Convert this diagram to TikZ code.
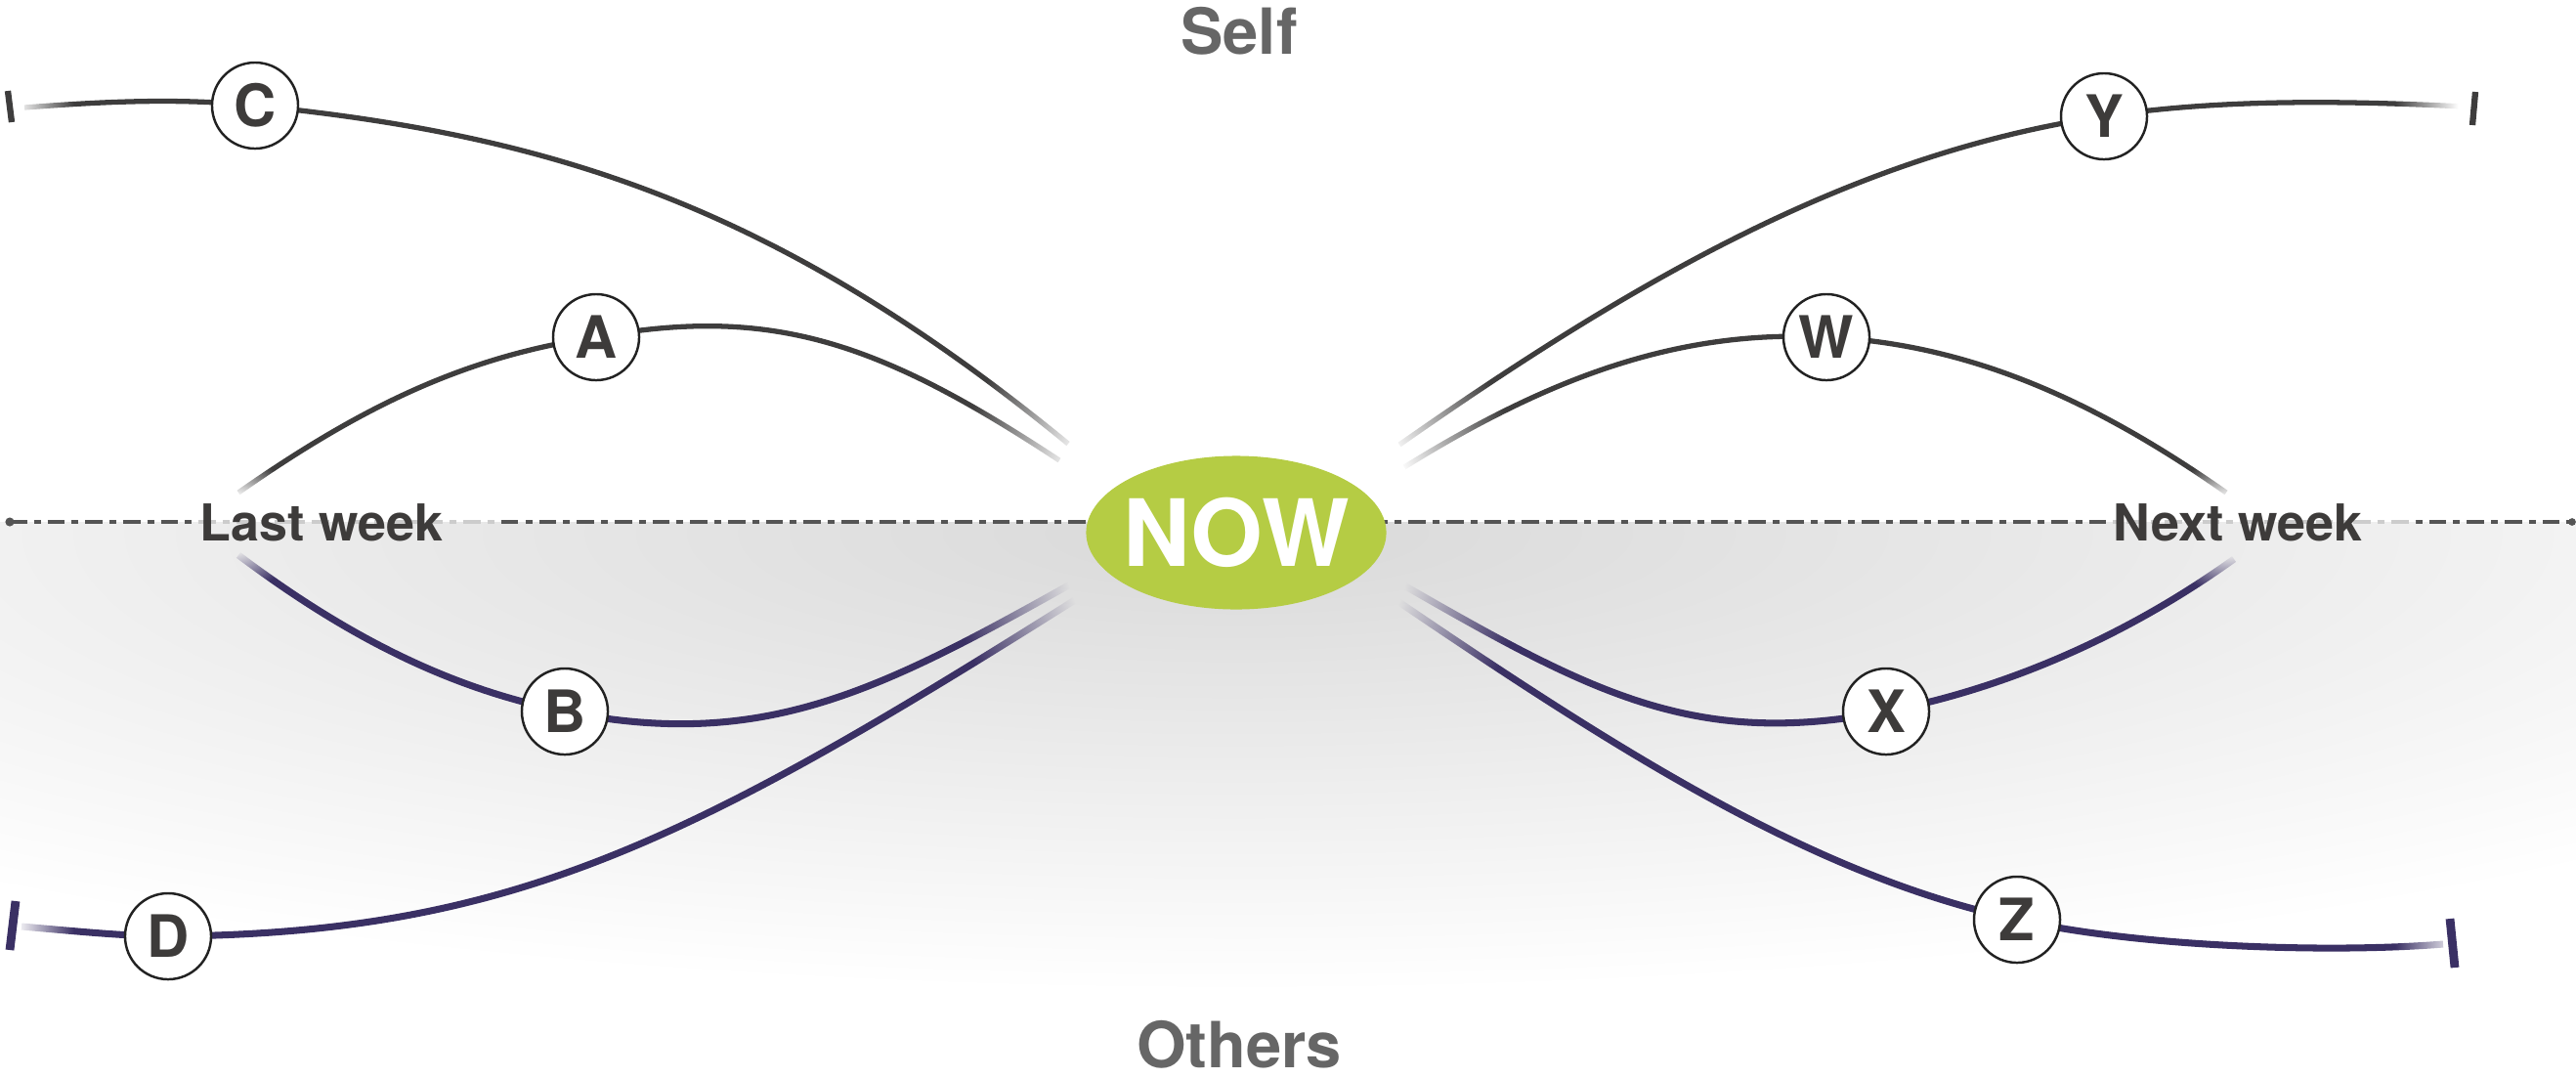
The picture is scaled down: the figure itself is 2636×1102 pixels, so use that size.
\documentclass[tikz,border=0pt]{standalone}
\usepackage{fontspec}
\setmainfont{TeX Gyre Heros}
\usepackage{tikz}
\usetikzlibrary{shapes.geometric,backgrounds,fadings}
\definecolor{nowgreen}{RGB}{181,204,68}
\definecolor{selfline}{RGB}{62,61,61}
\definecolor{otherline}{RGB}{58,48,100}
\definecolor{inkgray}{RGB}{61,59,58}
\definecolor{capgray}{RGB}{102,102,102}
\definecolor{dashgray}{RGB}{85,85,85}
\definecolor{ringgray}{RGB}{34,34,34}

% holes for the fading of the curve ends
\pgfdeclareradialshading{nowhole}{\pgfpoint{0bp}{0bp}}{color(0bp)=(black); color(9bp)=(black); color(15bp)=(white); color(25bp)=(white); color(50bp)=(white)}
\pgfdeclareradialshading{weekhole}{\pgfpoint{0bp}{0bp}}{color(0bp)=(black); color(5bp)=(black); color(12.5bp)=(white); color(25bp)=(white); color(50bp)=(white)}

\begin{tikzfadingfrompicture}[name=curvefade, x=0.01cm, y=-0.01cm]
  \fill[white] (0,0) rectangle (2636,1102);
  \shade[shading=nowhole] (1265,545) circle (5cm);
  \shade[shading=weekhole] (236,536) circle (1.4cm);
  \shade[shading=weekhole] (2282,538) circle (1.4cm);
  \fill[black] (0,0) rectangle (15,1102);
  \shade[left color=black, right color=white] (15,0) rectangle (75,1102);
  \shade[left color=white, right color=black] (2450,0) rectangle (2515,1102);
  \fill[black] (2515,0) rectangle (2636,1102);
\end{tikzfadingfrompicture}

\tikzset{
  evtnode/.style={circle, draw=ringgray, line width=0.7pt, fill=white,
    minimum size=0.88cm, inner sep=0pt, text=inkgray,
    font=\fontsize{17}{17}\selectfont\bfseries},
  nowoval/.style={ellipse, fill=nowgreen, minimum width=3.07cm,
    minimum height=1.57cm, inner xsep=-0.12cm, inner ysep=0pt, text=white,
    font=\fontsize{27}{27}\selectfont\bfseries},
  sidelab/.style={text=capgray, inner sep=0pt,
    font=\fontsize{18.5}{19}\selectfont\bfseries},
  weeklab/.style={text=inkgray, inner sep=0pt,
    font=\fontsize{14.8}{15}\selectfont\bfseries},
  timeline/.style={draw=dashgray, line width=0.9pt,
    dash pattern=on 5pt off 2pt on 2pt off 2pt},
  fadeends/.style={path fading=curvefade, fit fading=false,
    fading transform={xshift=13.18cm, yshift=-5.51cm}},
  selfcurve/.style={draw=selfline, line width=1.5pt, fadeends},
  othercurve/.style={draw=otherline, line width=2pt, fadeends},
  selftick/.style={draw=selfline, line width=1.8pt},
  othertick/.style={draw=otherline, line width=2.5pt},
}

\begin{document}
\begin{tikzpicture}[x=0.01cm, y=-0.01cm]
  \useasboundingbox (0,0) rectangle (2636,1102);

  % centre
  \node[nowoval] (now) at (1265,545) {NOW};

  % last week side
  \node[evtnode] (C) at (261,108) {C};
  \node[evtnode] (A) at (610,345) {A};
  \node[evtnode] (B) at (578,728) {B};
  \node[evtnode] (D) at (172,958) {D};

  % next week side
  \node[evtnode] (Y) at (2153,119) {Y};
  \node[evtnode] (W) at (1869,345) {W};
  \node[evtnode] (X) at (1930,728) {X};
  \node[evtnode] (Z) at (2064,941) {Z};

  % labels
  \node[sidelab] (self) at (1268,32) {Self};
  \node[sidelab] (others) at (1268,1069) {Others};
  \node[weeklab] (last) at (329,535) {Last week};
  \node[weeklab] (next) at (2290,535) {Next week};

  % loose ends
  \coordinate (c0) at (25,110);   \coordinate (c1) at (1093,454);
  \coordinate (a0) at (244,504);  \coordinate (a1) at (1084,471);
  \coordinate (b0) at (244,568);  \coordinate (b1) at (1095,598);
  \coordinate (d0) at (22,948);   \coordinate (d1) at (1103,612);
  \coordinate (y0) at (1432,455); \coordinate (y1) at (2521,109);
  \coordinate (w0) at (1437,478); \coordinate (w1) at (2278,504);
  \coordinate (x0) at (1435,598); \coordinate (x1) at (2286,572);
  \coordinate (z0) at (1430,615); \coordinate (z1) at (2500,966);

  \begin{scope}[on background layer]
    % shadow below the time line
    \begin{scope}
      \clip (0,534) rectangle (2636,1102);
      \shade[inner color=black!15, outer color=white]
        (1265,545) ellipse [x radius=20cm, y radius=4.7cm];
    \end{scope}

    % time line, paler round the week labels
    \draw[timeline] (10,534) -- (2632,534);
    \begin{scope}
      \clip (200,515) rectangle (510,555);
      \draw[timeline, draw=gray!40] (10,534) -- (2632,534);
    \end{scope}
    \begin{scope}
      \clip (2160,515) rectangle (2472,555);
      \draw[timeline, draw=gray!40] (10,534) -- (2632,534);
    \end{scope}
    \fill[dashgray] (10,534) circle (1.3pt);
    \fill[dashgray] (2632,534) circle (1.1pt);

    % self curves
    \draw[selfcurve] (c0) .. controls (105,104) and (181,100) .. (C.center)
      .. controls (561,138) and (793,208) .. (c1);
    \draw[selfcurve] (a0) .. controls (374,413) and (480,364) .. (A.center)
      .. controls (790,312) and (900,350) .. (a1);
    \draw[selfcurve] (y0) .. controls (1682,280) and (1903,156) .. (Y.center)
      .. controls (2273,101) and (2400,103) .. (y1);
    \draw[selfcurve] (w0) .. controls (1587,385) and (1719,337) .. (W.center)
      .. controls (2019,352) and (2148,413) .. (w1);

    % others curves
    \draw[othercurve] (b0) .. controls (364,658) and (468,706) .. (B.center)
      .. controls (778,768) and (895,710) .. (b1);
    \draw[othercurve] (d0) .. controls (80,953) and (130,958) .. (D.center)
      .. controls (522,955) and (703,864) .. (d1);
    \draw[othercurve] (x0) .. controls (1630,710) and (1735,766) .. (X.center)
      .. controls (2040,707) and (2166,658) .. (x1);
    \draw[othercurve] (z0) .. controls (1680,785) and (1864,897) .. (Z.center)
      .. controls (2194,970) and (2390,975) .. (z1);

    % end ticks
    \draw[selftick] (8,93) -- (12,125);
    \draw[selftick] (2533,94) -- (2530,128);
    \draw[othertick] (16,922) -- (10,972);
    \draw[othertick] (2507,940) -- (2512,990);
  \end{scope}
\end{tikzpicture}
\end{document}
